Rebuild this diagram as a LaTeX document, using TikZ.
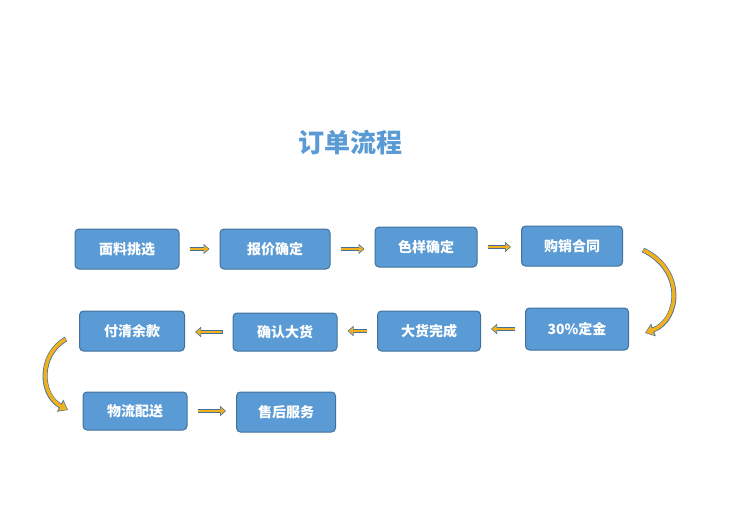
\documentclass[tikz,border=0pt]{standalone}
\usepackage{fontspec}
\setmainfont{Liberation Sans}
\newfontfamily\cjk{Noto Sans CJK SC}
\usetikzlibrary{positioning,arrows.meta}
\definecolor{boxblue}{HTML}{5B9BD5}
\definecolor{boxline}{HTML}{41719C}
\definecolor{gold}{HTML}{F2B01E}
\begin{document}
\begin{tikzpicture}[x=1pt, y=-1pt, font=\cjk\bfseries,
  b/.style={rectangle, rounded corners=4pt, fill=boxblue, draw=boxline, line width=1pt, text=white, minimum height=40pt, font=\cjk\bfseries\fontsize{14}{16}\selectfont},
  s/.style={line width=4.5pt, draw=boxline, -{Triangle[length=6pt,width=10pt]}, shorten <=10pt, shorten >=10pt,
    postaction={draw=gold, line width=2.5pt, -{Triangle[length=4.5pt,width=7pt]}, shorten <=10.5pt, shorten >=11pt}},
  c/.style={line width=5pt, draw=boxline, -{Triangle[length=9pt,width=13pt]},
    postaction={draw=gold, line width=3.5pt, -{Triangle[length=7pt,width=10pt]}, shorten <=0.5pt, shorten >=1pt}}]
\useasboundingbox (0,0) rectangle (744,511);
\node[text=boxblue, font=\cjk\bfseries\fontsize{26}{30}\selectfont] (title) at (350,143) {订单流程};
\node[b, minimum width=104pt] (A) at (127,249) {面料挑选};
\node[b, minimum width=110pt] (B) at (275,249) {报价确定};
\node[b, minimum width=102pt] (C) at (426,247) {色样确定};
\node[b, minimum width=101pt] (D) at (572,246) {购销合同};
\node[b, minimum width=103pt, minimum height=42pt] (E) at (577,329) {30\%定金};
\node[b, minimum width=103pt] (F) at (429,331) {大货完成};
\node[b, minimum width=104pt, minimum height=38pt] (G) at (285,332) {确认大货};
\node[b, minimum width=105pt] (H) at (132,331) {付清余款};
\node[b, minimum width=104pt, minimum height=38pt] (I) at (135,411) {物流配送};
\node[b, minimum width=99pt] (J) at (286,412) {售后服务};
\path[s] (A.east) -- (B.west |- A.east);
\path[s] (B.east) -- (C.west |- B.east);
\path[s] (C.east) -- (D.west |- C.east);
\path[s] (E.west) -- (F.east |- E.west);
\path[s] (F.west) -- (G.east |- F.west);
\path[s] (G.west) -- (H.east |- G.west);
\path[s] (I.east) -- (J.west |- I.east);
\coordinate (d1) at (643,250);
\coordinate (e1) at (645,333);
\coordinate (h1) at (66,339);
\coordinate (i1) at (68,410);
\path[c] (d1) .. controls (685,270) and (680,320) .. (e1);
\path[c] (h1) .. controls (38,355) and (40,395) .. (i1);
\end{tikzpicture}
\end{document}
